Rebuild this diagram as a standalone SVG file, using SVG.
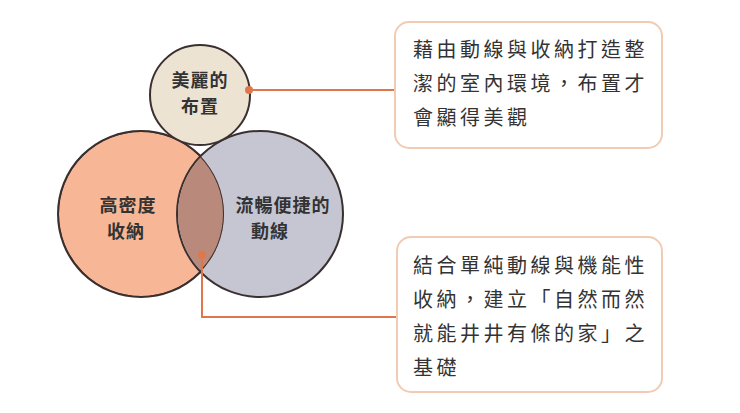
<svg xmlns="http://www.w3.org/2000/svg" width="740" height="413" viewBox="0 0 740 413">
<style>
.c{stroke:#3a3030;stroke-width:2}
.t{font-family:"Noto Sans CJK TC",sans-serif;font-weight:bold;font-size:18px;fill:#333;text-anchor:middle;letter-spacing:1px}
.b{fill:#fff;stroke:#f2cbb5;stroke-width:2}
.bt{font-family:"Noto Sans CJK TC",sans-serif;font-size:20px;fill:#333;letter-spacing:3.5px}
.l{fill:none;stroke:#e0774b;stroke-width:2}
</style>
<defs><clipPath id="cl"><circle cx="141" cy="214" r="83"/></clipPath></defs>
<rect width="740" height="413" fill="#fff"/>
<g id="storage"><circle class="c" cx="141" cy="214" r="83" fill="#f7b796"/><text class="t" x="128" y="212">高密度</text><text class="t" x="126" y="238">收納</text></g>
<g id="flow"><circle class="c" cx="260" cy="214" r="83" fill="#c6c6d3"/><text class="t" x="283" y="212">流暢便捷的</text><text class="t" x="270" y="238">動線</text></g>
<g id="overlap"><circle cx="260" cy="214" r="82" fill="#b98a7b" clip-path="url(#cl)"/><circle cx="141" cy="214" r="83" fill="none" stroke="#3a3030" stroke-width="2" clip-path="url(#cl)"/></g>
<g id="beauty"><circle class="c" cx="200" cy="95" r="50" fill="#ece3d3"/><text class="t" x="200" y="87">美麗的</text><text class="t" x="200" y="113">布置</text></g>
<g id="connectors">
<path class="l" d="M249 90H395"/><circle cx="249" cy="90" r="4" fill="#e0774b"/>
<path class="l" d="M202 255V317H397"/><circle cx="202" cy="255" r="4" fill="#e0774b"/>
</g>
<g id="box1"><rect class="b" x="395" y="22" width="267" height="126" rx="14"/>
<text class="bt" x="413" y="57">藉由動線與收納打造整</text><text class="bt" x="413" y="91">潔的室內環境，布置才</text><text class="bt" x="413" y="125">會顯得美觀</text></g>
<g id="box2"><rect class="b" x="397" y="237" width="265" height="155" rx="14"/>
<text class="bt" x="413" y="273">結合單純動線與機能性</text><text class="bt" x="413" y="307">收納，建立「自然而然</text><text class="bt" x="413" y="341">就能井井有條的家」之</text><text class="bt" x="413" y="375">基礎</text></g>
</svg>
